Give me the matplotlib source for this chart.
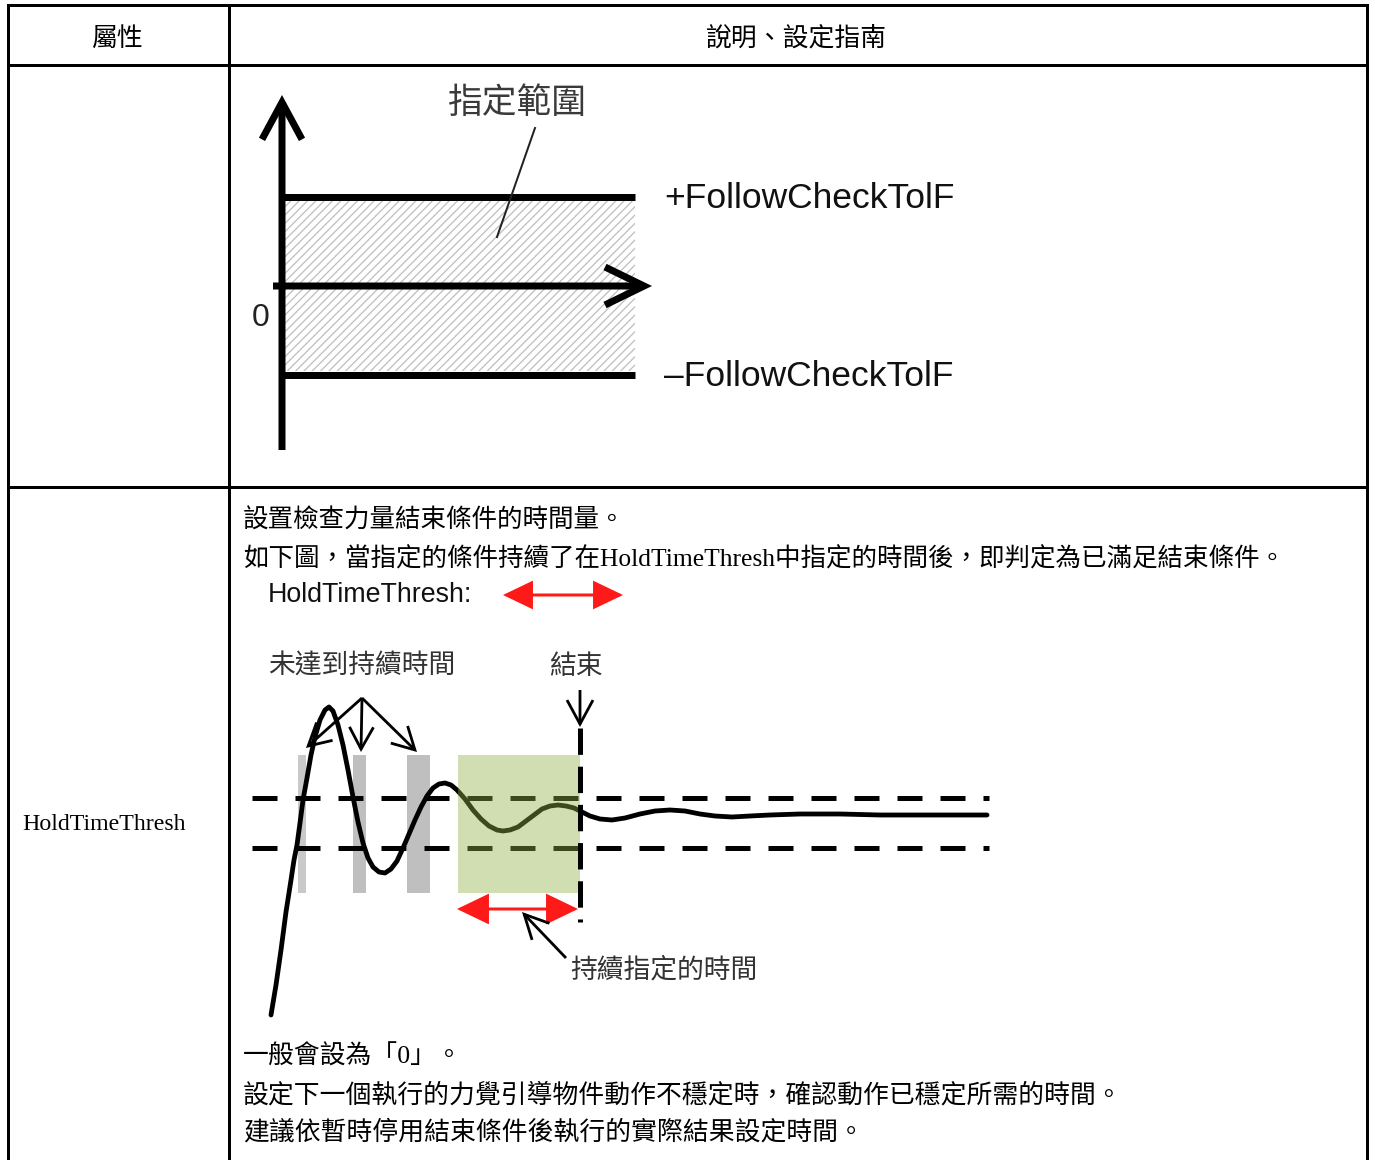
import matplotlib.pyplot as plt
from matplotlib.patches import Rectangle, FancyArrowPatch

plt.rcParams['font.family'] = ['Noto Sans CJK TC', 'DejaVu Sans']
plt.rcParams['hatch.linewidth'] = 0.9
plt.rcParams['lines.scale_dashes'] = False

PX = 0.72  # points per pixel (dpi 100)

# ---- table ----
col_edges = [8, 229, 1367]
row_edges = [5, 65, 487, 1160]
headers = ['屬性', '說明、設定指南']
prop_name = 'HoldTimeThresh'
intro_lines = ['設置檢查力量結束條件的時間量。',
               '如下圖，當指定的條件持續了在HoldTimeThresh中指定的時間後，即判定為已滿足結束條件。']
intro_y = [521, 559]
note_lines = ['一般會設為「0」。',
              '設定下一個執行的力覺引導物件動作不穩定時，確認動作已穩定所需的時間。',
              '建議依暫時停用結束條件後執行的實際結果設定時間。']
note_y = [1057, 1095, 1132]

# ---- upper diagram: tolerance band ----
band_title = '指定範圍'
band_labels = ['+FollowCheckTolF', '–FollowCheckTolF']
band_y = [197, 375]
zero_y = 286
axis_x = 282
band_x = [282, 635]

# ---- lower diagram: settling curve ----
curve_x = [271, 276, 281, 286, 291, 294, 297, 300, 303, 307, 311, 315, 320, 325, 329,
           333, 338, 343, 348, 353, 358, 363, 368, 373, 379, 385, 391, 397, 403, 409,
           415, 421, 427, 433, 439, 445, 451, 457, 465, 473, 481, 489, 497, 503, 510,
           518, 526, 534, 542, 550, 558, 566, 574, 582, 590, 600, 612, 625, 640, 655,
           670, 685, 700, 715, 732, 750, 770, 800, 840, 880, 930, 987]
curve_y = [1015, 985, 950, 912, 880, 860, 845, 823, 800, 778, 755, 737, 720, 710, 707,
           711, 725, 745, 770, 797, 822, 843, 858, 867, 872, 873, 869, 861, 848, 834,
           820, 807, 796, 788, 784, 783, 785, 790, 799, 810, 819, 826, 830, 831, 830,
           827, 821, 815, 809, 806, 805, 806, 808, 812, 816, 819, 820, 818, 814, 811,
           810, 811, 814, 816, 817, 816, 815, 814, 814, 815, 815, 815]
tol_y = [798, 848]
tol_x = [252, 989]
gray_bars = [(298, 306, '#c9c9c9'), (353, 366, '#bfbfbf'), (407, 430, '#bfbfbf')]
hold_span = [458, 580]
box_y = [755, 893]
end_x = 580

fig = plt.figure(figsize=(13.75, 11.6), dpi=100)
ax = fig.add_axes([0, 0, 1, 1])
ax.set_xlim(0, 1375)
ax.set_ylim(1160, 0)
ax.axis('off')


def arrow(p0, p1, lw, hl, hw, color='black', style='->', z=5):
    a = FancyArrowPatch(p0, p1, arrowstyle=f'{style},head_length={hl},head_width={hw}',
                        mutation_scale=PX, lw=lw * PX, color=color,
                        shrinkA=0, shrinkB=0, zorder=z, joinstyle='miter',
                        capstyle='butt')
    ax.add_patch(a)


# table grid
for x in col_edges:
    ax.plot([x, x], [row_edges[0], row_edges[-1]], color='black', lw=3 * PX,
            solid_capstyle='projecting')
for y in row_edges[:-1]:
    ax.plot([col_edges[0], col_edges[-1]], [y, y], color='black', lw=3 * PX,
            solid_capstyle='projecting')

ax.text(118, 38, headers[0], fontsize=18.6, ha='center', va='center')
ax.text(797, 38, headers[1], fontsize=18.6, ha='center', va='center')
ax.text(22, 824, prop_name, fontsize=17.2, ha='left', va='center',
        family=['Liberation Serif'])

body_font = ['Liberation Serif', 'Noto Sans CJK TC']
for s, y in zip(intro_lines, intro_y):
    ax.text(243, y, s, fontsize=18.4, ha='left', va='center', family=body_font)
for s, y in zip(note_lines, note_y):
    ax.text(243, y, s, fontsize=18.6, ha='left', va='center', family=body_font)

# ---- upper diagram ----
ax.add_patch(Rectangle((band_x[0] + 3, band_y[0] + 4), band_x[1] - band_x[0] - 3,
                       band_y[1] - band_y[0] - 8, facecolor='white',
                       edgecolor='#bdbdbd', hatch='////', lw=0, zorder=1))
for y in band_y:
    ax.plot(band_x, [y, y], color='black', lw=7 * PX, solid_capstyle='butt', zorder=3)
arrow((axis_x, 450), (axis_x, 95), 7, 37, 20)
arrow((273, zero_y), (652, zero_y), 7, 39, 19)
ax.plot([535, 497], [128, 237], color='#222222', lw=2 * PX, zorder=3)
ax.text(517, 103, band_title, fontsize=25, ha='center', va='center', color='#3a3a3a')
ax.text(261, 318, '0', fontsize=23, ha='center', va='center', color='#222222',
        family=['Liberation Sans'])
for s, y in zip(band_labels, band_y):
    ax.text(664, y + 1, s, fontsize=25.5, ha='left', va='center', color='#111111',
            family=['Liberation Sans'])

# ---- lower diagram ----
ax.text(268, 595, 'HoldTimeThresh:', fontsize=19.3, ha='left', va='center',
        color='#111111', family=['Liberation Sans'])
arrow((503, 595), (623, 595), 3, 25, 12, color='#ff1a1a', style='<|-|>')

for x0, x1, c in gray_bars:
    ax.add_patch(Rectangle((x0, box_y[0]), x1 - x0, box_y[1] - box_y[0],
                           facecolor=c, lw=0, zorder=1))
for y in tol_y:
    ax.plot(tol_x, [y, y], color='black', lw=5 * PX, dashes=(18, 12.96),
            solid_capstyle='butt', zorder=2)
ax.plot(curve_x, curve_y, color='black', lw=4.8 * PX, solid_joinstyle='round',
        solid_capstyle='round', zorder=3)
ax.add_patch(Rectangle((hold_span[0], box_y[0]), hold_span[1] - hold_span[0],
                       box_y[1] - box_y[0], facecolor='#8fb247', alpha=0.42,
                       lw=0, zorder=4))
ax.plot([end_x, end_x], [728, 922], color='black', lw=5 * PX, dashes=(19, 8.5),
        zorder=5)

ax.text(362, 666, '未達到持續時間', fontsize=19.3, ha='center', va='center', color='#333333')
for tip in [(306, 748), (361, 752), (417, 752)]:
    arrow((362, 698), tip, 2.8, 22, 12)
ax.text(576, 667, '結束', fontsize=19.3, ha='center', va='center', color='#333333')
arrow((580, 690), (580, 727), 2.8, 24, 13)

arrow((457, 909), (578, 909), 3, 27, 13, color='#ff1a1a', style='<|-|>')
arrow((566, 958), (522, 912), 2.8, 24, 12)
ax.text(570, 970, '持續指定的時間', fontsize=19.3, ha='left', va='center', color='#333333')

fig.savefig('out.png', dpi=100)
